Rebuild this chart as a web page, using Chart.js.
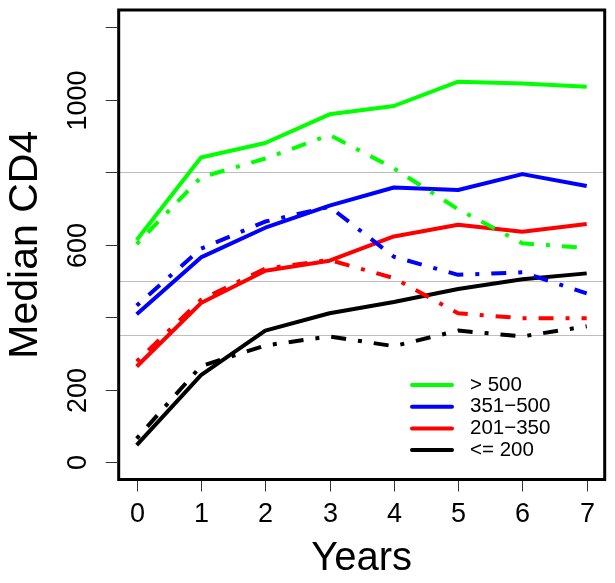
<!DOCTYPE html>
<html>
<head>
<meta charset="utf-8">
<script src="https://cdn.jsdelivr.net/npm/chart.js@4"></script>
<style>
  body { margin: 0; background: #fff; }
</style>
</head>
<body>
<canvas id="myChart" width="615" height="583"></canvas>
<script>
// Datos
var years = [0, 1, 2, 3, 4, 5, 6, 7];
var xTickLabels = ['0', '1', '2', '3', '4', '5', '6', '7'];
var yTicks = [0, 200, 400, 600, 800, 1000, 1200];
var yTickLabels = ['0', '200', '', '600', '', '1000', ''];
var refLines = [350, 500, 800];

var leyendas = ['> 500', '351\u2212500', '201\u2212350', '<= 200'];
var colores = ['#00ff00', '#0000ff', '#ff0000', '#000000'];

// líneas continuas
var g500 = [613, 841, 881, 960, 983, 1050, 1045, 1036];
var g351 = [408, 565, 647, 708, 758, 751, 795, 762];
var g201 = [264, 439, 528, 556, 623, 655, 636, 657];
var g200 = [47, 240, 363, 411, 442, 478, 505, 521];
// líneas punto-raya
var g500b = [602, 786, 838, 903, 811, 698, 604, 591];
var g351b = [432, 589, 664, 705, 567, 517, 524, 466];
var g201b = [278, 448, 534, 558, 508, 411, 397, 397];
var g200b = [65, 265, 322, 347, 320, 363, 347, 375];

function puntos(arr) {
    return years.map(function (x, i) { return { x: x, y: arr[i] }; });
}

function serie(label, arr, color, dash) {
    return {
        label: label,
        data: puntos(arr),
        borderColor: color,
        borderWidth: 4,
        borderDash: dash ? [4, 12, 15, 12] : [],
        borderJoinStyle: 'round',
        pointRadius: 0,
        tension: 0,
        fill: false
    };
}

var fuente = '"Liberation Sans", Arial, Helvetica, sans-serif';

// ejes, marco y leyenda al estilo de R
var ejes = {
    id: 'ejes',
    beforeDatasetsDraw: function (c) {
        var ctx = c.ctx, a = c.chartArea, ys = c.scales.y;
        ctx.save();
        ctx.strokeStyle = '#bebebe';
        ctx.lineWidth = 1;
        refLines.forEach(function (v) {
            var py = Math.round(ys.getPixelForValue(v)) + 0.5;
            ctx.beginPath();
            ctx.moveTo(a.left, py);
            ctx.lineTo(a.right, py);
            ctx.stroke();
        });
        ctx.restore();
    },
    afterDatasetsDraw: function (c) {
        var ctx = c.ctx, a = c.chartArea, xs = c.scales.x, ys = c.scales.y;
        ctx.save();
        // marco
        ctx.strokeStyle = '#000';
        ctx.lineWidth = 3;
        ctx.strokeRect(a.left, a.top, a.right - a.left, a.bottom - a.top);

        // eje x
        ctx.lineWidth = 1;
        ctx.strokeStyle = '#333';
        ctx.fillStyle = '#000';
        ctx.font = '27px ' + fuente;
        ctx.textAlign = 'center';
        ctx.textBaseline = 'middle';
        years.forEach(function (v, i) {
            var px = Math.round(xs.getPixelForValue(v)) + 0.5;
            ctx.beginPath();
            ctx.moveTo(px, a.bottom + 1.5);
            ctx.lineTo(px, a.bottom + 12);
            ctx.stroke();
            ctx.fillText(xTickLabels[i], px, a.bottom + 35);
        });

        // eje y
        yTicks.forEach(function (v, i) {
            var py = Math.round(ys.getPixelForValue(v)) + 0.5;
            ctx.beginPath();
            ctx.moveTo(a.left - 1.5, py);
            ctx.lineTo(a.left - 13, py);
            ctx.stroke();
            if (yTickLabels[i]) {
                ctx.save();
                ctx.translate(a.left - 40, py);
                ctx.rotate(-Math.PI / 2);
                ctx.fillText(yTickLabels[i], 0, 0);
                ctx.restore();
            }
        });

        // títulos
        ctx.font = '40px ' + fuente;
        ctx.textBaseline = 'alphabetic';
        ctx.fillText('Years', (a.left + a.right) / 2, 570);
        ctx.font = '41px ' + fuente;
        ctx.save();
        ctx.translate(37, (a.top + a.bottom) / 2);
        ctx.rotate(-Math.PI / 2);
        ctx.fillText('Median CD4', 0, 0);
        ctx.restore();

        // leyenda
        ctx.font = '20.5px ' + fuente;
        ctx.textAlign = 'left';
        ctx.textBaseline = 'middle';
        ctx.lineWidth = 4;
        ctx.lineCap = 'round';
        leyendas.forEach(function (t, i) {
            var ly = 385 + i * 21.7;
            ctx.strokeStyle = colores[i];
            ctx.beginPath();
            ctx.moveTo(412, ly);
            ctx.lineTo(452, ly);
            ctx.stroke();
            ctx.fillText(t, 470, ly);
        });
        ctx.restore();
    }
};

var chart = document.getElementById('myChart').getContext('2d');
var myChart = new Chart(chart, {
    type: 'line',
    data: {
        datasets: [
            serie(leyendas[0], g500, colores[0], false),
            serie(leyendas[0], g500b, colores[0], true),
            serie(leyendas[1], g351, colores[1], false),
            serie(leyendas[1], g351b, colores[1], true),
            serie(leyendas[2], g201, colores[2], false),
            serie(leyendas[2], g201b, colores[2], true),
            serie(leyendas[3], g200, colores[3], false),
            serie(leyendas[3], g200b, colores[3], true)
        ]
    },
    options: {
        responsive: false,
        animation: false,
        events: [],
        layout: {
            padding: { left: 118.7, right: 10.3, top: 10, bottom: 103.5 }
        },
        plugins: {
            legend: { display: false },
            tooltip: { enabled: false }
        },
        scales: {
            x: { type: 'linear', min: -0.28, max: 7.28, display: false },
            y: { type: 'linear', min: -48, max: 1248, display: false }
        }
    },
    plugins: [ejes]
});
</script>
</body>
</html>
